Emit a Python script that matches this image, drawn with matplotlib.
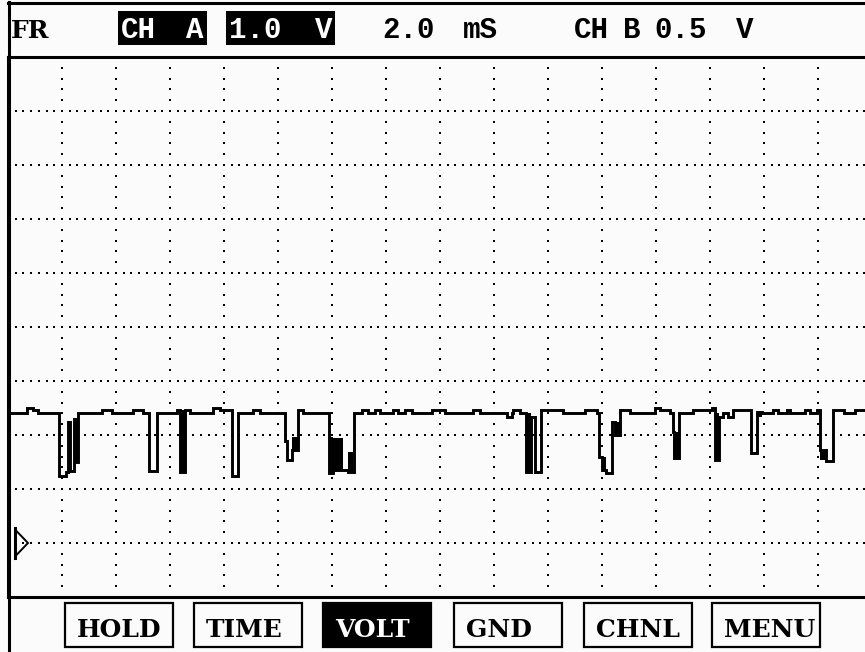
import numpy as np
import matplotlib
matplotlib.use("Agg")
import matplotlib.pyplot as plt
from matplotlib.patches import Rectangle, Polygon
from matplotlib.lines import Line2D
from matplotlib.transforms import Affine2D

# ---- data ----
# channel A trace: time (ms) where a step starts, level (V) held until the next step
trace_t = [0.00, 0.70, 0.93, 1.11, 1.89, 2.15, 2.22, 2.30, 2.44, 2.52, 2.59,
           3.48, 3.85, 4.63, 5.00, 5.22, 5.51, 6.26, 6.37, 6.56, 6.74,
           7.59, 7.85, 8.28, 8.53, 9.07, 9.33, 10.26, 10.33, 10.52, 10.74, 10.93,
           11.89, 12.04, 12.59, 12.81, 13.11, 13.33, 13.59, 13.78, 14.26, 14.44,
           14.70, 14.96, 15.70, 16.19, 17.22, 17.48, 18.48, 18.67, 18.70, 18.96,
           19.19, 19.37, 19.52, 19.74, 20.56, 21.37, 21.81, 21.90, 21.99, 22.14,
           22.36, 22.48, 22.67, 23.04, 23.96, 24.15, 24.52, 24.64, 24.67, 24.85,
           25.37, 26.07, 26.19, 26.33, 26.48, 26.67, 26.85, 27.51, 27.74, 27.93,
           28.33, 28.52, 28.85, 28.96, 29.52, 29.70, 29.96, 30.07, 30.30, 30.56,
           30.96, 31.37, 31.74]
trace_v = [2.41, 2.50, 2.46, 2.41, 1.24, 1.31, 2.24, 1.33, 2.30, 1.50, 2.41,
           2.46, 2.41, 2.46, 2.41, 1.34, 2.41, 2.46, 1.31, 2.46, 2.41,
           2.50, 2.46, 1.24, 2.41, 2.46, 2.41, 1.88, 1.54, 1.72, 2.46, 2.41,
           1.30, 1.35, 1.32, 2.41, 2.46, 2.41, 2.46, 2.41, 2.46, 2.41,
           2.46, 2.41, 2.46, 2.41, 2.46, 2.41, 2.33, 2.41, 2.46, 2.41,
           1.31, 2.33, 1.31, 2.46, 2.41, 2.46, 2.41, 1.60, 1.35, 1.29,
           2.25, 2.00, 2.46, 2.41, 2.50, 2.46, 2.41, 2.06, 1.57, 2.41,
           2.46, 2.50, 1.54, 2.34, 2.41, 2.34, 2.46, 1.66, 2.43, 2.41,
           2.46, 2.41, 2.46, 2.41, 2.46, 2.41, 2.46, 1.72, 1.51, 2.46,
           2.41, 2.46, 2.46]

# glitch bursts that fill in solid on the screen: start, end (ms), low, high (V)
burst_t0 = [2.22, 2.44, 6.37, 10.52, 11.89, 12.04, 12.59, 19.19, 21.99, 22.48, 24.64, 26.19, 27.74, 30.07]
burst_t1 = [2.30, 2.59, 6.56, 10.74, 12.04, 12.41, 12.78, 19.37, 22.14, 22.67, 24.85, 26.33, 27.93, 30.30]
burst_lo = [1.33, 1.50, 1.31, 1.72, 1.30, 1.35, 1.32, 1.31, 1.35, 2.00, 1.57, 1.54, 2.33, 1.54]
burst_hi = [2.24, 2.30, 2.46, 1.96, 1.97, 1.94, 1.69, 2.41, 1.60, 2.25, 2.06, 2.41, 2.43, 1.72]

gnd_level = 0.0
ms_per_div = 2.0
v_per_div = 1.0

header_words = ["FR", "CH", "A", "1.0", "V", "2.0", "mS", "CH", "B", "0.5", "V"]
buttons = ["HOLD", "TIME", "VOLT", "GND", "CHNL", "MENU"]
selected = "VOLT"

# ---- layout (pixels from top-left) ----
W, H = 865, 652
bg = "#fbfbfb"
header_x = [11, 121, 186, 229, 315, 382, 463, 574, 623, 654, 736]
inverse_boxes = [(118, 11, 89, 34), (226, 11, 109, 34)]
button_x = [65, 194, 323, 454, 584, 712]

fig = plt.figure(figsize=(W / 100, H / 100), dpi=100, facecolor=bg)
pix = Affine2D().scale(1 / W, -1 / H).translate(0, 1) + fig.transFigure

ax = fig.add_axes([8 / W, (H - 597) / H, (W - 8) / W, 540 / H])
ax.set_facecolor(bg)
ax.set_xlim(0, (W - 8) / 27.0)
ax.set_ylim(gnd_level - 1 * v_per_div, gnd_level + 9 * v_per_div)
ax.set_xticks([])
ax.set_yticks([])
ax.spines["right"].set_visible(False)
for s in ["left", "top", "bottom"]:
    ax.spines[s].set_linewidth(2.2)

# dotted graticule
x_max = ax.get_xlim()[1]
vlines = np.arange(ms_per_div, x_max, ms_per_div)
hlines = np.arange(gnd_level, gnd_level + 9 * v_per_div, v_per_div)
vy = np.arange(-1, 9.01, v_per_div / 5)
hx = np.arange(0, x_max, ms_per_div / 7)
for xv in vlines:
    ax.scatter(np.full_like(vy, xv), vy, s=4, marker="s", color="black", lw=0, zorder=2)
for yv in hlines:
    ax.scatter(hx, np.full_like(hx, yv), s=4, marker="s", color="black", lw=0, zorder=2)

# trace
ax.plot(trace_t, trace_v, drawstyle="steps-post", color="black", lw=2.1, zorder=4,
        solid_joinstyle="miter")
ax.bar(burst_t0, np.subtract(burst_hi, burst_lo), width=np.subtract(burst_t1, burst_t0),
       bottom=burst_lo, align="edge", color="black", lw=0, zorder=4)

# ground reference marker
gx = [0.26, 0.26, 0.74]
tri = Polygon([[gx[0], gnd_level - 0.25], [gx[1], gnd_level + 0.25], [gx[2], gnd_level]],
              closed=True, fill=False, ec="black", lw=1.4, zorder=5)
ax.add_patch(tri)
ax.plot([gx[0], gx[0]], [gnd_level - 0.27, gnd_level + 0.27], color="black", lw=2.2, zorder=5)

# outer frame
fig.add_artist(Line2D([8, W], [3, 3], transform=pix, color="black", lw=2.2))
fig.add_artist(Line2D([8.5, 8.5], [2, H], transform=pix, color="black", lw=2.2))

# header
for (bx, by, bw, bh) in inverse_boxes:
    fig.add_artist(Rectangle((bx, by), bw, bh, transform=pix, color="black", lw=0))
for word, x in zip(header_words, header_x):
    inv = any(bx <= x <= bx + bw for (bx, by, bw, bh) in inverse_boxes)
    if word == "FR":
        fig.text(x, 38, word, transform=pix, family="DejaVu Serif", weight="bold",
                 fontsize=18, color="black", va="baseline")
    else:
        fig.text(x, 38, word, transform=pix, family="Liberation Mono", weight="bold",
                 fontsize=21, color="white" if inv else "black", va="baseline")

# soft-key buttons
for label, x in zip(buttons, button_x):
    on = label == selected
    fig.add_artist(Rectangle((x, 603), 108, 44, transform=pix,
                             facecolor="black" if on else "none",
                             edgecolor="black", lw=1.6))
    fig.text(x + 12, 637, label, transform=pix, family="DejaVu Serif", weight="bold",
             fontsize=18, color="white" if on else "black", va="baseline")

fig.savefig("out.png", dpi=100, facecolor=bg)
